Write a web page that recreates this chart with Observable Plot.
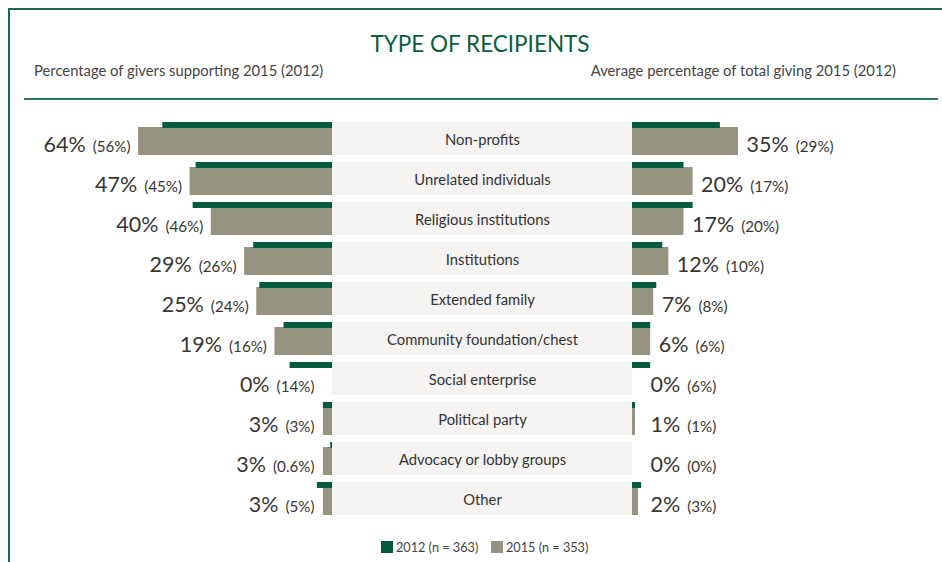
<!DOCTYPE html>
<html><head><meta charset="utf-8">
<script src="https://cdn.jsdelivr.net/npm/d3@7"></script>
<script src="https://cdn.jsdelivr.net/npm/@observablehq/plot@0.6"></script>
<style>
body{margin:0;background:#fff;font-family:Lato,"Noto Sans",sans-serif;}
#root{position:relative;width:942px;height:562px;overflow:hidden;background:#fff;}
#frame{position:absolute;left:8px;top:8px;width:1000px;height:700px;border-left:2px solid #1b6a4e;border-top:2px solid #1b6a4e;}
#rule{position:absolute;left:24px;top:98px;width:914px;height:2px;background:#2e765c;}
#title{position:absolute;left:0;width:960px;top:33px;text-align:center;font-size:22.5px;color:#0b5d3d;line-height:1;white-space:nowrap;}
.sub{position:absolute;top:63px;font-size:14.8px;color:#444;line-height:1;white-space:nowrap;}
.chart{position:absolute;top:100px;}
#legend{position:absolute;top:530px;left:0;width:982px;display:flex;justify-content:center;}
#legend svg{margin-right:3px !important;}
</style>
</head><body>
<div id="root">
  <div id="frame"></div>
  <div id="title">TYPE OF RECIPIENTS</div>
  <div class="sub" id="subL" style="left:34px;">Percentage of givers supporting 2015 (2012)</div>
  <div class="sub" id="subR" style="right:46px;">Average percentage of total giving 2015 (2012)</div>
  <div id="rule"></div>
  <div class="chart" id="left" style="left:0px;"></div>
  <div class="chart" id="center" style="left:332px;"></div>
  <div class="chart" id="right" style="left:632px;"></div>
  <div id="legend"></div>
</div>
<script>
// ---- data ----
const categories = ["Non-profits","Unrelated individuals","Religious institutions","Institutions","Extended family","Community foundation/chest","Social enterprise","Political party","Advocacy or lobby groups","Other"];
const givers2015 = [64,47,40,29,25,19,0,3,3,3];
const givers2012 = [56,45,46,26,24,16,14,3,0.6,5];
const share2015 = [35,20,17,12,7,6,0,1,0,2];
const share2012 = [29,17,20,10,8,6,6,1,0,3];
const legendLabels = ["2012 (n = 363)","2015 (n = 353)"];

// ---- style ----
const GREEN = "#065b3d", GRAY = "#979381", BAND = "#f5f4f2", TXT = "#3a3634";
const PX = 3.03;           // pixels per percentage point
const LABEL_MIN = 3.3;     // minimum label offset (in % units)
const H = 415, MT = 22;

const leftRows = categories.map((c,i)=>({cat:c, v15:givers2015[i], v12:givers2012[i]}));
const rightRows = categories.map((c,i)=>({cat:c, v15:share2015[i], v12:share2012[i]}));

const yOpts = {axis:null, domain:categories, paddingInner:0.175, paddingOuter:0};

function side(rows, width, reverse){
  const svg = Plot.plot({
    width, height:H, marginTop:MT, marginBottom:0, marginLeft:0, marginRight:0,
    style:{background:"transparent", overflow:"visible"},
    x:{axis:null, domain:[0, width/PX], range: reverse ? [width,0] : [0,width]},
    y:yOpts,
    marks:[
      Plot.barX(rows, {x:"v15", y:"cat", fill:GRAY, insetTop:5}),
      Plot.barX(rows, {x:"v12", y:"cat", fill:GREEN, insetBottom:27}),
      Plot.text(rows, {x:d=>Math.max(d.v15, LABEL_MIN), y:"cat",
        text:d=>`${d.v15}%|(${d.v12}%)`,
        textAnchor: reverse ? "end" : "start", dx: reverse ? -8 : 8, dy:6.6,
        fontSize:21.5, fill:TXT, fontFamily:"Lato"})
    ]
  });
  d3.select(svg).selectAll('g[aria-label="text"] text').each(function(){
    const [a,b] = this.textContent.split("|");
    const t = d3.select(this); t.text(null);
    t.append("tspan").text(a);
    t.append("tspan").attr("font-size",15.2).attr("dx",7).text(b);
  });
  return svg;
}

document.getElementById("left").append(side(leftRows, 332, true));
document.getElementById("right").append(side(rightRows, 310, false));

const center = Plot.plot({
  width:300, height:H, marginTop:MT, marginBottom:0, marginLeft:0, marginRight:0,
  style:{background:"transparent"},
  y:yOpts,
  marks:[
    Plot.cell(categories, {y:d=>d, fill:BAND}),
    Plot.text(categories, {y:d=>d, text:d=>d, frameAnchor:"middle", fontSize:14.8, fill:"#333", dy:1.5, fontFamily:"Lato"})
  ]
});
document.getElementById("center").append(center);

const leg = Plot.legend({
  color:{type:"ordinal", domain:legendLabels, range:[GREEN, GRAY]},
  swatchSize:12,
  style:{fontFamily:"Lato", fontSize:"12.7px", color:"#444", background:"transparent"}
});
document.getElementById("legend").append(leg);
</script>
</body></html>
